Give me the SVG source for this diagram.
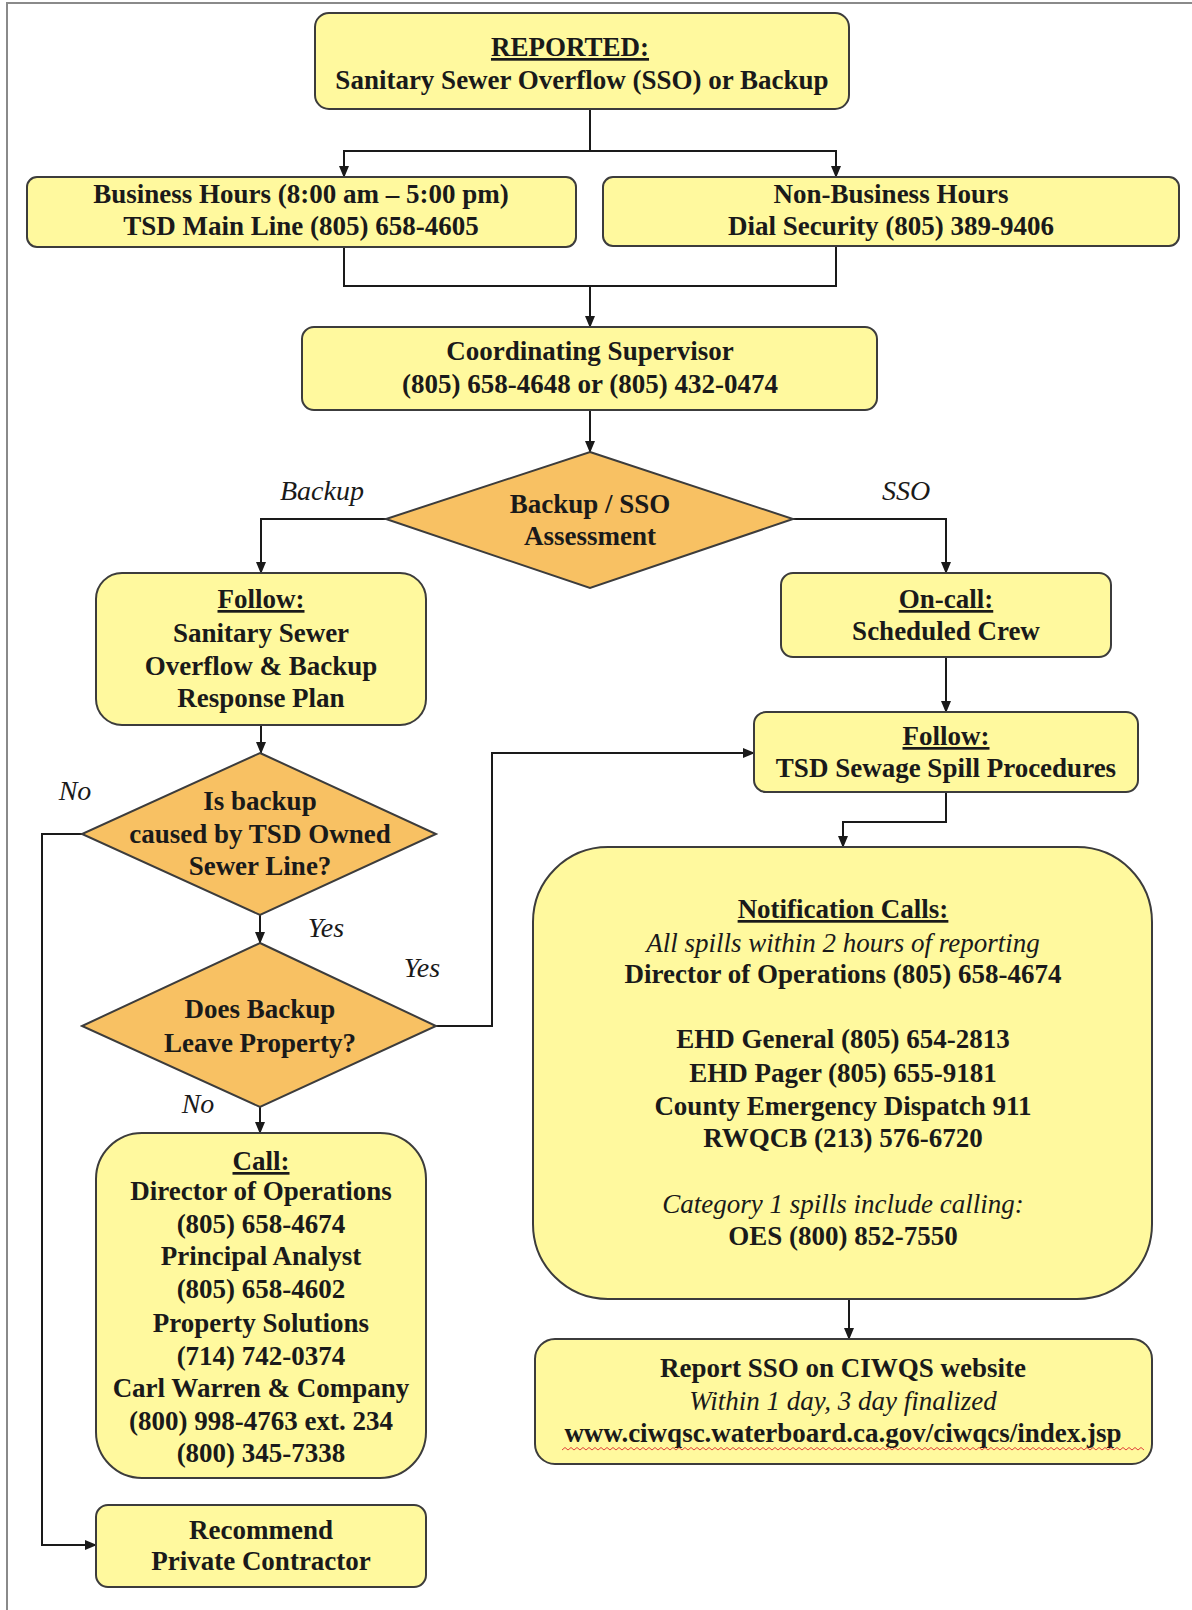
<svg xmlns="http://www.w3.org/2000/svg" width="1192" height="1610" viewBox="0 0 1192 1610">
<defs>
<marker id="arr" markerWidth="12" markerHeight="10" refX="11" refY="5" orient="auto" markerUnits="userSpaceOnUse">
<path d="M0,0 L12,5 L0,10 Z" fill="#1a1a1a"/>
</marker>
<style>
.box{fill:#FFF99E;stroke:#3c3c3c;stroke-width:2}
.dia{fill:#F8C163;stroke:#3c3c3c;stroke-width:2}
.t{font-family:"Liberation Serif","Times New Roman",serif;font-size:27px;font-weight:bold;fill:#1a1a1a;text-anchor:middle}
.i{font-family:"Liberation Serif","Times New Roman",serif;font-size:27px;font-style:italic;fill:#1a1a1a;text-anchor:middle}
.lbl{font-family:"Liberation Serif","Times New Roman",serif;font-size:28px;font-style:italic;fill:#1a1a1a;text-anchor:middle}
.u{text-decoration:underline}
.c{fill:none;stroke:#1a1a1a;stroke-width:2}
</style>
</defs>
<rect x="0" y="0" width="1192" height="1610" fill="#ffffff"/>
<path d="M7,1610 V3 H1192" fill="none" stroke="#8a8a8a" stroke-width="2"/>

<g id="connectors">
<path class="c" d="M590,109 V151 H344 V177" marker-end="url(#arr)"/>
<path class="c" d="M590,151 H836 V177" marker-end="url(#arr)"/>
<path class="c" d="M344,247 V286 H836 V246"/>
<path class="c" d="M590,286 V327" marker-end="url(#arr)"/>
<path class="c" d="M590,410 V452" marker-end="url(#arr)"/>
<path class="c" d="M386,519 H261 V573" marker-end="url(#arr)"/>
<path class="c" d="M793,519 H946 V573" marker-end="url(#arr)"/>
<path class="c" d="M946,657 V712" marker-end="url(#arr)"/>
<path class="c" d="M261,725 V753" marker-end="url(#arr)"/>
<path class="c" d="M260,915 V943" marker-end="url(#arr)"/>
<path class="c" d="M82,834 H42 V1545 H96" marker-end="url(#arr)"/>
<path class="c" d="M436,1026 H492 V753 H754" marker-end="url(#arr)"/>
<path class="c" d="M260,1107 V1133" marker-end="url(#arr)"/>
<path class="c" d="M946,792 V822 H843 V847" marker-end="url(#arr)"/>
<path class="c" d="M849,1299 V1339" marker-end="url(#arr)"/>
<text class="lbl" x="322" y="500">Backup</text>
<text class="lbl" x="906" y="500">SSO</text>
<text class="lbl" x="75" y="800">No</text>
<text class="lbl" x="326" y="937">Yes</text>
<text class="lbl" x="422" y="977">Yes</text>
<text class="lbl" x="198" y="1113">No</text>
</g>

<g id="reported">
<rect class="box" x="315" y="13" width="534" height="96" rx="14"/>
<text class="t u" x="570" y="56" font-size="31">REPORTED:</text>
<text class="t" x="582" y="89">Sanitary Sewer Overflow (SSO) or Backup</text>
</g>

<g id="business">
<rect class="box" x="27" y="177" width="549" height="70" rx="10"/>
<text class="t" x="301" y="203">Business Hours (8:00 am – 5:00 pm)</text>
<text class="t" x="301" y="235">TSD Main Line (805) 658-4605</text>
</g>

<g id="nonbusiness">
<rect class="box" x="603" y="177" width="576" height="69" rx="10"/>
<text class="t" x="891" y="203">Non-Business Hours</text>
<text class="t" x="891" y="235">Dial Security (805) 389-9406</text>
</g>

<g id="coordinating">
<rect class="box" x="302" y="327" width="575" height="83" rx="12"/>
<text class="t" x="590" y="360">Coordinating Supervisor</text>
<text class="t" x="590" y="393">(805) 658-4648 or (805) 432-0474</text>
</g>

<g id="assessment">
<polygon class="dia" points="590,452 793,519 590,588 386,519"/>
<text class="t" x="590" y="513">Backup / SSO</text>
<text class="t" x="590" y="545">Assessment</text>
</g>

<g id="follow-plan">
<rect class="box" x="96" y="573" width="330" height="152" rx="26"/>
<text class="t u" x="261" y="608">Follow:</text>
<text class="t" x="261" y="642">Sanitary Sewer</text>
<text class="t" x="261" y="675">Overflow &amp; Backup</text>
<text class="t" x="261" y="707">Response Plan</text>
</g>

<g id="oncall">
<rect class="box" x="781" y="573" width="330" height="84" rx="12"/>
<text class="t u" x="946" y="608">On-call:</text>
<text class="t" x="946" y="640">Scheduled Crew</text>
</g>

<g id="follow-tsd">
<rect class="box" x="754" y="712" width="384" height="80" rx="12"/>
<text class="t u" x="946" y="745">Follow:</text>
<text class="t" x="946" y="777">TSD Sewage Spill Procedures</text>
</g>

<g id="tsd-owned">
<polygon class="dia" points="260,753 436,834 260,915 82,834"/>
<text class="t" x="260" y="810">Is backup</text>
<text class="t" x="260" y="843">caused by TSD Owned</text>
<text class="t" x="260" y="875">Sewer Line?</text>
</g>

<g id="leave-property">
<polygon class="dia" points="260,943 436,1026 260,1107 82,1026"/>
<text class="t" x="260" y="1018">Does Backup</text>
<text class="t" x="260" y="1052">Leave Property?</text>
</g>

<g id="call">
<rect class="box" x="96" y="1133" width="330" height="345" rx="46"/>
<text class="t u" x="261" y="1170">Call:</text>
<text class="t" x="261" y="1200">Director of Operations</text>
<text class="t" x="261" y="1233">(805) 658-4674</text>
<text class="t" x="261" y="1265">Principal Analyst</text>
<text class="t" x="261" y="1298">(805) 658-4602</text>
<text class="t" x="261" y="1332">Property Solutions</text>
<text class="t" x="261" y="1365">(714) 742-0374</text>
<text class="t" x="261" y="1397">Carl Warren &amp; Company</text>
<text class="t" x="261" y="1430">(800) 998-4763 ext. 234</text>
<text class="t" x="261" y="1462">(800) 345-7338</text>
</g>

<g id="recommend">
<rect class="box" x="96" y="1505" width="330" height="82" rx="12"/>
<text class="t" x="261" y="1539">Recommend</text>
<text class="t" x="261" y="1570">Private Contractor</text>
</g>

<g id="notification">
<rect class="box" x="533" y="847" width="619" height="452" rx="75"/>
<text class="t u" x="843" y="918">Notification Calls:</text>
<text class="i" x="843" y="952">All spills within 2 hours of reporting</text>
<text class="t" x="843" y="983">Director of Operations (805) 658-4674</text>
<text class="t" x="843" y="1048">EHD General (805) 654-2813</text>
<text class="t" x="843" y="1082">EHD Pager (805) 655-9181</text>
<text class="t" x="843" y="1115">County Emergency Dispatch 911</text>
<text class="t" x="843" y="1147">RWQCB (213) 576-6720</text>
<text class="i" x="843" y="1213">Category 1 spills include calling:</text>
<text class="t" x="843" y="1245">OES (800) 852-7550</text>
</g>

<g id="report">
<rect class="box" x="535" y="1339" width="617" height="125" rx="20"/>
<text class="t" x="843" y="1377">Report SSO on CIWQS website</text>
<text class="i" x="843" y="1410">Within 1 day, 3 day finalized</text>
<text class="t" x="843" y="1442">www.ciwqsc.waterboard.ca.gov/ciwqcs/index.jsp</text>
<path d="M562,1450 l3,-2.5 l3,2.5 l3,-2.5 l3,2.5 l3,-2.5 l3,2.5 l3,-2.5 l3,2.5 l3,-2.5 l3,2.5 l3,-2.5 l3,2.5 l3,-2.5 l3,2.5 l3,-2.5 l3,2.5 l3,-2.5 l3,2.5 l3,-2.5 l3,2.5 l3,-2.5 l3,2.5 l3,-2.5 l3,2.5 l3,-2.5 l3,2.5 l3,-2.5 l3,2.5 l3,-2.5 l3,2.5 l3,-2.5 l3,2.5 l3,-2.5 l3,2.5 l3,-2.5 l3,2.5 l3,-2.5 l3,2.5 l3,-2.5 l3,2.5 l3,-2.5 l3,2.5 l3,-2.5 l3,2.5 l3,-2.5 l3,2.5 l3,-2.5 l3,2.5 l3,-2.5 l3,2.5 l3,-2.5 l3,2.5 l3,-2.5 l3,2.5 l3,-2.5 l3,2.5 l3,-2.5 l3,2.5 l3,-2.5 l3,2.5 l3,-2.5 l3,2.5 l3,-2.5 l3,2.5 l3,-2.5 l3,2.5 l3,-2.5 l3,2.5 l3,-2.5 l3,2.5 l3,-2.5 l3,2.5 l3,-2.5 l3,2.5 l3,-2.5 l3,2.5 l3,-2.5 l3,2.5 l3,-2.5 l3,2.5 l3,-2.5 l3,2.5 l3,-2.5 l3,2.5 l3,-2.5 l3,2.5 l3,-2.5 l3,2.5 l3,-2.5 l3,2.5 l3,-2.5 l3,2.5 l3,-2.5 l3,2.5 l3,-2.5 l3,2.5 l3,-2.5 l3,2.5 l3,-2.5 l3,2.5 l3,-2.5 l3,2.5 l3,-2.5 l3,2.5 l3,-2.5 l3,2.5 l3,-2.5 l3,2.5 l3,-2.5 l3,2.5 l3,-2.5 l3,2.5 l3,-2.5 l3,2.5 l3,-2.5 l3,2.5 l3,-2.5 l3,2.5 l3,-2.5 l3,2.5 l3,-2.5 l3,2.5 l3,-2.5 l3,2.5 l3,-2.5 l3,2.5 l3,-2.5 l3,2.5 l3,-2.5 l3,2.5 l3,-2.5 l3,2.5 l3,-2.5 l3,2.5 l3,-2.5 l3,2.5 l3,-2.5 l3,2.5 l3,-2.5 l3,2.5 l3,-2.5 l3,2.5 l3,-2.5 l3,2.5 l3,-2.5 l3,2.5 l3,-2.5 l3,2.5 l3,-2.5 l3,2.5 l3,-2.5 l3,2.5 l3,-2.5 l3,2.5 l3,-2.5 l3,2.5 l3,-2.5 l3,2.5 l3,-2.5 l3,2.5 l3,-2.5 l3,2.5 l3,-2.5 l3,2.5 l3,-2.5 l3,2.5 l3,-2.5 l3,2.5 l3,-2.5 l3,2.5 l3,-2.5 l3,2.5 l3,-2.5 l3,2.5 l3,-2.5 l3,2.5 l3,-2.5 l3,2.5 l3,-2.5 l3,2.5 l3,-2.5 l3,2.5 l3,-2.5 l3,2.5 l3,-2.5 l3,2.5 l3,-2.5 l3,2.5 l3,-2.5 l3,2.5 l3,-2.5 l3,2.5 l3,-2.5 l3,2.5" fill="none" stroke="#e0403a" stroke-width="1"/>
</g>
</svg>
